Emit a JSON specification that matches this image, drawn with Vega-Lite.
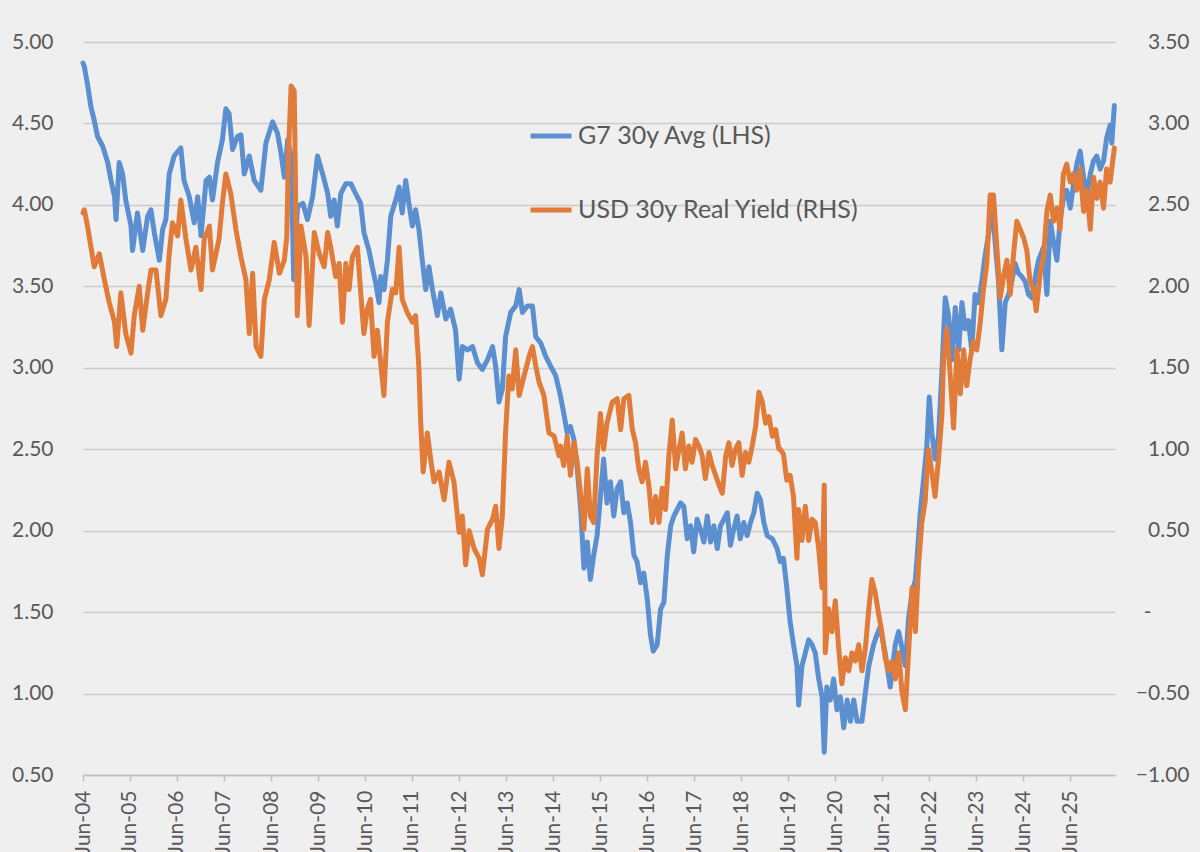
{
  "$schema": "https://vega.github.io/schema/vega-lite/v6.json",
  "width": 1032,
  "height": 733,
  "autosize": {"type": "none"},
  "padding": {"left": 83, "top": 42, "right": 85, "bottom": 77},
  "background": "#efefef",
  "config": {
    "view": {"stroke": null},
    "font": "Lato",
    "axis": {"labelFont": "Lato", "labelFontSize": 21, "labelColor": "#595959", "title": null}
  },
  "datasets": {
    "g7": [
      {"date": "2004-06-01", "value": 4.87}, {"date": "2004-06-11", "value": 4.85}, {"date": "2004-07-06", "value": 4.74},
      {"date": "2004-08-02", "value": 4.60}, {"date": "2004-08-27", "value": 4.52}, {"date": "2004-09-22", "value": 4.42},
      {"date": "2004-11-01", "value": 4.36}, {"date": "2004-12-10", "value": 4.26}, {"date": "2005-01-05", "value": 4.15},
      {"date": "2005-02-01", "value": 4.05}, {"date": "2005-02-13", "value": 3.91}, {"date": "2005-03-09", "value": 4.26},
      {"date": "2005-04-05", "value": 4.19}, {"date": "2005-04-29", "value": 4.03}, {"date": "2005-06-09", "value": 3.87},
      {"date": "2005-06-21", "value": 3.72}, {"date": "2005-07-29", "value": 3.95}, {"date": "2005-09-08", "value": 3.72},
      {"date": "2005-10-16", "value": 3.93}, {"date": "2005-11-11", "value": 3.97}, {"date": "2005-12-07", "value": 3.83},
      {"date": "2006-01-15", "value": 3.66}, {"date": "2006-02-10", "value": 3.85}, {"date": "2006-03-07", "value": 3.91},
      {"date": "2006-04-02", "value": 4.19}, {"date": "2006-05-10", "value": 4.30}, {"date": "2006-07-01", "value": 4.35},
      {"date": "2006-07-26", "value": 4.15}, {"date": "2006-09-05", "value": 4.05}, {"date": "2006-10-13", "value": 3.89},
      {"date": "2006-11-09", "value": 4.05}, {"date": "2006-12-05", "value": 3.81}, {"date": "2007-01-13", "value": 4.15},
      {"date": "2007-02-08", "value": 4.17}, {"date": "2007-03-04", "value": 4.03}, {"date": "2007-04-12", "value": 4.26},
      {"date": "2007-05-20", "value": 4.40}, {"date": "2007-06-16", "value": 4.59}, {"date": "2007-07-11", "value": 4.56},
      {"date": "2007-08-07", "value": 4.34}, {"date": "2007-09-15", "value": 4.42}, {"date": "2007-10-11", "value": 4.43},
      {"date": "2007-11-06", "value": 4.19}, {"date": "2007-12-15", "value": 4.30}, {"date": "2008-01-22", "value": 4.15},
      {"date": "2008-03-14", "value": 4.09}, {"date": "2008-04-22", "value": 4.38}, {"date": "2008-06-13", "value": 4.51},
      {"date": "2008-07-21", "value": 4.44}, {"date": "2008-08-17", "value": 4.32}, {"date": "2008-09-12", "value": 4.17},
      {"date": "2008-10-08", "value": 4.40}, {"date": "2008-11-04", "value": 4.30}, {"date": "2008-11-24", "value": 3.54},
      {"date": "2008-12-24", "value": 3.99}, {"date": "2009-02-03", "value": 4.01}, {"date": "2009-03-11", "value": 3.91},
      {"date": "2009-04-20", "value": 4.05}, {"date": "2009-05-28", "value": 4.30}, {"date": "2009-07-07", "value": 4.19},
      {"date": "2009-08-15", "value": 4.07}, {"date": "2009-09-08", "value": 3.93}, {"date": "2009-10-04", "value": 4.03},
      {"date": "2009-10-29", "value": 3.87}, {"date": "2009-11-25", "value": 4.07}, {"date": "2010-01-03", "value": 4.13},
      {"date": "2010-02-11", "value": 4.13}, {"date": "2010-03-20", "value": 4.07}, {"date": "2010-04-28", "value": 4.01},
      {"date": "2010-05-24", "value": 3.83}, {"date": "2010-07-02", "value": 3.72}, {"date": "2010-07-27", "value": 3.62},
      {"date": "2010-08-23", "value": 3.52}, {"date": "2010-09-18", "value": 3.40}, {"date": "2010-10-01", "value": 3.56},
      {"date": "2010-10-27", "value": 3.48}, {"date": "2010-11-22", "value": 3.66}, {"date": "2010-12-18", "value": 3.93},
      {"date": "2011-01-26", "value": 4.03}, {"date": "2011-02-21", "value": 4.11}, {"date": "2011-03-17", "value": 3.95},
      {"date": "2011-04-13", "value": 4.15}, {"date": "2011-05-08", "value": 4.01}, {"date": "2011-06-04", "value": 3.87},
      {"date": "2011-06-29", "value": 3.97}, {"date": "2011-07-25", "value": 3.85}, {"date": "2011-08-20", "value": 3.66},
      {"date": "2011-09-16", "value": 3.48}, {"date": "2011-10-11", "value": 3.62}, {"date": "2011-11-07", "value": 3.48},
      {"date": "2011-12-15", "value": 3.32}, {"date": "2012-01-11", "value": 3.46}, {"date": "2012-02-19", "value": 3.30},
      {"date": "2012-03-27", "value": 3.36}, {"date": "2012-05-05", "value": 3.23}, {"date": "2012-06-01", "value": 2.93},
      {"date": "2012-06-27", "value": 3.13}, {"date": "2012-08-05", "value": 3.11}, {"date": "2012-09-13", "value": 3.13},
      {"date": "2012-10-22", "value": 3.03}, {"date": "2012-11-29", "value": 2.99}, {"date": "2013-01-08", "value": 3.05},
      {"date": "2013-02-16", "value": 3.13}, {"date": "2013-03-12", "value": 3.01}, {"date": "2013-04-07", "value": 2.79},
      {"date": "2013-05-03", "value": 2.87}, {"date": "2013-05-28", "value": 3.19}, {"date": "2013-07-07", "value": 3.34},
      {"date": "2013-08-15", "value": 3.38}, {"date": "2013-09-11", "value": 3.48}, {"date": "2013-10-06", "value": 3.34},
      {"date": "2013-11-14", "value": 3.38}, {"date": "2013-12-23", "value": 3.38}, {"date": "2014-01-18", "value": 3.19},
      {"date": "2014-02-26", "value": 3.15}, {"date": "2014-04-05", "value": 3.07}, {"date": "2014-05-13", "value": 3.01},
      {"date": "2014-06-22", "value": 2.95}, {"date": "2014-07-28", "value": 2.83}, {"date": "2014-08-23", "value": 2.72},
      {"date": "2014-09-19", "value": 2.60}, {"date": "2014-10-14", "value": 2.64}, {"date": "2014-11-10", "value": 2.56},
      {"date": "2014-12-06", "value": 2.38}, {"date": "2015-01-02", "value": 2.13}, {"date": "2015-01-27", "value": 1.77},
      {"date": "2015-02-22", "value": 1.93}, {"date": "2015-03-18", "value": 1.70}, {"date": "2015-04-13", "value": 1.85},
      {"date": "2015-05-09", "value": 1.97}, {"date": "2015-06-04", "value": 2.21}, {"date": "2015-06-29", "value": 2.44},
      {"date": "2015-07-25", "value": 2.17}, {"date": "2015-08-21", "value": 2.30}, {"date": "2015-09-16", "value": 2.09},
      {"date": "2015-10-12", "value": 2.26}, {"date": "2015-11-08", "value": 2.30}, {"date": "2015-12-03", "value": 2.11},
      {"date": "2015-12-29", "value": 2.17}, {"date": "2016-01-24", "value": 2.05}, {"date": "2016-02-19", "value": 1.85},
      {"date": "2016-03-15", "value": 1.81}, {"date": "2016-04-11", "value": 1.68}, {"date": "2016-05-06", "value": 1.74},
      {"date": "2016-06-02", "value": 1.58}, {"date": "2016-06-27", "value": 1.36}, {"date": "2016-07-18", "value": 1.26},
      {"date": "2016-08-18", "value": 1.30}, {"date": "2016-09-14", "value": 1.52}, {"date": "2016-10-09", "value": 1.56},
      {"date": "2016-11-05", "value": 1.85}, {"date": "2016-12-01", "value": 2.03}, {"date": "2016-12-26", "value": 2.09},
      {"date": "2017-01-21", "value": 2.13}, {"date": "2017-02-16", "value": 2.17}, {"date": "2017-03-13", "value": 2.15},
      {"date": "2017-04-08", "value": 1.95}, {"date": "2017-05-04", "value": 2.03}, {"date": "2017-05-29", "value": 1.87},
      {"date": "2017-06-24", "value": 2.07}, {"date": "2017-07-20", "value": 2.01}, {"date": "2017-08-16", "value": 1.93},
      {"date": "2017-09-11", "value": 2.09}, {"date": "2017-10-07", "value": 1.93}, {"date": "2017-11-02", "value": 2.03},
      {"date": "2017-11-28", "value": 1.89}, {"date": "2017-12-23", "value": 2.03}, {"date": "2018-01-19", "value": 2.07},
      {"date": "2018-02-14", "value": 2.11}, {"date": "2018-03-10", "value": 1.91}, {"date": "2018-04-05", "value": 2.01},
      {"date": "2018-05-01", "value": 2.09}, {"date": "2018-05-26", "value": 1.95}, {"date": "2018-06-22", "value": 2.05},
      {"date": "2018-07-18", "value": 1.97}, {"date": "2018-08-13", "value": 2.05}, {"date": "2018-09-08", "value": 2.11},
      {"date": "2018-10-04", "value": 2.23}, {"date": "2018-10-29", "value": 2.19}, {"date": "2018-11-25", "value": 2.05},
      {"date": "2018-12-21", "value": 1.97}, {"date": "2019-01-30", "value": 1.95}, {"date": "2019-03-08", "value": 1.89},
      {"date": "2019-04-01", "value": 1.81}, {"date": "2019-04-26", "value": 1.83}, {"date": "2019-05-22", "value": 1.65},
      {"date": "2019-06-17", "value": 1.44}, {"date": "2019-07-13", "value": 1.30}, {"date": "2019-08-09", "value": 1.17},
      {"date": "2019-08-22", "value": 0.93}, {"date": "2019-09-17", "value": 1.17}, {"date": "2019-10-13", "value": 1.25},
      {"date": "2019-11-08", "value": 1.33}, {"date": "2019-12-04", "value": 1.30}, {"date": "2019-12-29", "value": 1.25},
      {"date": "2020-01-25", "value": 1.09}, {"date": "2020-02-20", "value": 0.98}, {"date": "2020-03-08", "value": 0.64},
      {"date": "2020-03-28", "value": 1.04}, {"date": "2020-04-24", "value": 0.96}, {"date": "2020-05-20", "value": 1.09},
      {"date": "2020-06-15", "value": 0.90}, {"date": "2020-07-11", "value": 0.98}, {"date": "2020-08-06", "value": 0.79},
      {"date": "2020-09-02", "value": 0.96}, {"date": "2020-09-27", "value": 0.83}, {"date": "2020-10-23", "value": 0.96},
      {"date": "2020-11-18", "value": 0.83}, {"date": "2020-12-26", "value": 0.83}, {"date": "2021-01-22", "value": 1.01},
      {"date": "2021-02-17", "value": 1.17}, {"date": "2021-03-26", "value": 1.30}, {"date": "2021-04-21", "value": 1.36},
      {"date": "2021-05-17", "value": 1.41}, {"date": "2021-06-24", "value": 1.25}, {"date": "2021-08-03", "value": 1.04},
      {"date": "2021-09-11", "value": 1.30}, {"date": "2021-10-07", "value": 1.38}, {"date": "2021-11-02", "value": 1.28},
      {"date": "2021-11-28", "value": 1.17}, {"date": "2021-12-23", "value": 1.46}, {"date": "2022-01-19", "value": 1.62},
      {"date": "2022-02-14", "value": 1.70}, {"date": "2022-02-27", "value": 1.83}, {"date": "2022-03-23", "value": 2.10},
      {"date": "2022-04-18", "value": 2.31}, {"date": "2022-05-14", "value": 2.52}, {"date": "2022-06-02", "value": 2.82},
      {"date": "2022-06-22", "value": 2.60}, {"date": "2022-07-17", "value": 2.44}, {"date": "2022-08-13", "value": 2.58},
      {"date": "2022-09-08", "value": 2.97}, {"date": "2022-10-04", "value": 3.43}, {"date": "2022-10-30", "value": 3.32},
      {"date": "2022-11-25", "value": 3.05}, {"date": "2022-12-21", "value": 3.37}, {"date": "2023-01-16", "value": 3.11},
      {"date": "2023-02-11", "value": 3.40}, {"date": "2023-03-07", "value": 3.24}, {"date": "2023-04-02", "value": 3.29},
      {"date": "2023-04-28", "value": 3.11}, {"date": "2023-05-24", "value": 3.45}, {"date": "2023-06-19", "value": 3.40},
      {"date": "2023-07-15", "value": 3.53}, {"date": "2023-08-10", "value": 3.69}, {"date": "2023-09-06", "value": 3.82},
      {"date": "2023-10-01", "value": 4.01}, {"date": "2023-10-27", "value": 3.77}, {"date": "2023-11-22", "value": 3.53},
      {"date": "2023-12-18", "value": 3.11}, {"date": "2024-01-13", "value": 3.40}, {"date": "2024-02-08", "value": 3.45},
      {"date": "2024-03-04", "value": 3.53}, {"date": "2024-03-30", "value": 3.64}, {"date": "2024-04-25", "value": 3.58},
      {"date": "2024-05-21", "value": 3.56}, {"date": "2024-06-16", "value": 3.53}, {"date": "2024-07-12", "value": 3.45},
      {"date": "2024-08-07", "value": 3.43}, {"date": "2024-09-03", "value": 3.56}, {"date": "2024-09-28", "value": 3.66},
      {"date": "2024-11-06", "value": 3.74}, {"date": "2024-12-02", "value": 3.45}, {"date": "2024-12-28", "value": 3.90},
      {"date": "2025-01-23", "value": 3.77}, {"date": "2025-02-18", "value": 3.66}, {"date": "2025-03-14", "value": 3.90},
      {"date": "2025-04-09", "value": 4.04}, {"date": "2025-05-05", "value": 4.09}, {"date": "2025-06-01", "value": 3.98},
      {"date": "2025-06-26", "value": 4.12}, {"date": "2025-07-22", "value": 4.25}, {"date": "2025-08-17", "value": 4.33},
      {"date": "2025-09-13", "value": 4.17}, {"date": "2025-10-08", "value": 4.06}, {"date": "2025-11-04", "value": 4.19},
      {"date": "2025-11-29", "value": 4.27}, {"date": "2025-12-25", "value": 4.30}, {"date": "2026-01-20", "value": 4.22},
      {"date": "2026-02-15", "value": 4.27}, {"date": "2026-03-11", "value": 4.41}, {"date": "2026-04-07", "value": 4.49},
      {"date": "2026-04-20", "value": 4.38}, {"date": "2026-05-10", "value": 4.61}
    ],
    "usd": [
      {"date": "2004-06-01", "value": 2.45}, {"date": "2004-06-11", "value": 2.47}, {"date": "2004-07-06", "value": 2.37},
      {"date": "2004-08-02", "value": 2.24}, {"date": "2004-08-27", "value": 2.12}, {"date": "2004-10-06", "value": 2.20},
      {"date": "2004-11-14", "value": 2.04}, {"date": "2004-12-22", "value": 1.90}, {"date": "2005-02-01", "value": 1.78},
      {"date": "2005-02-18", "value": 1.63}, {"date": "2005-03-22", "value": 1.96}, {"date": "2005-04-29", "value": 1.71},
      {"date": "2005-06-09", "value": 1.59}, {"date": "2005-07-04", "value": 1.82}, {"date": "2005-08-12", "value": 2.00},
      {"date": "2005-09-08", "value": 1.73}, {"date": "2005-10-16", "value": 1.96}, {"date": "2005-11-11", "value": 2.10},
      {"date": "2005-12-20", "value": 2.10}, {"date": "2006-01-27", "value": 1.82}, {"date": "2006-03-07", "value": 1.92},
      {"date": "2006-04-02", "value": 2.20}, {"date": "2006-04-27", "value": 2.39}, {"date": "2006-06-06", "value": 2.31},
      {"date": "2006-07-01", "value": 2.53}, {"date": "2006-08-10", "value": 2.29}, {"date": "2006-09-18", "value": 2.10},
      {"date": "2006-10-26", "value": 2.24}, {"date": "2006-12-05", "value": 1.98}, {"date": "2006-12-30", "value": 2.29},
      {"date": "2007-02-08", "value": 2.37}, {"date": "2007-03-04", "value": 2.10}, {"date": "2007-04-24", "value": 2.29},
      {"date": "2007-05-20", "value": 2.51}, {"date": "2007-06-16", "value": 2.69}, {"date": "2007-07-24", "value": 2.57},
      {"date": "2007-09-02", "value": 2.35}, {"date": "2007-10-11", "value": 2.18}, {"date": "2007-11-19", "value": 2.04},
      {"date": "2007-12-15", "value": 1.71}, {"date": "2008-01-10", "value": 2.08}, {"date": "2008-02-06", "value": 1.63},
      {"date": "2008-03-14", "value": 1.57}, {"date": "2008-04-10", "value": 1.92}, {"date": "2008-05-18", "value": 2.04},
      {"date": "2008-06-26", "value": 2.27}, {"date": "2008-08-05", "value": 2.08}, {"date": "2008-09-12", "value": 2.16},
      {"date": "2008-10-01", "value": 2.30}, {"date": "2008-10-16", "value": 2.85}, {"date": "2008-11-04", "value": 3.23},
      {"date": "2008-11-28", "value": 3.20}, {"date": "2008-12-10", "value": 2.50}, {"date": "2008-12-22", "value": 1.82},
      {"date": "2009-01-20", "value": 2.37}, {"date": "2009-02-28", "value": 2.18}, {"date": "2009-03-24", "value": 1.76},
      {"date": "2009-05-03", "value": 2.33}, {"date": "2009-06-11", "value": 2.20}, {"date": "2009-07-19", "value": 2.12},
      {"date": "2009-08-15", "value": 2.33}, {"date": "2009-09-08", "value": 2.24}, {"date": "2009-10-16", "value": 2.06},
      {"date": "2009-11-12", "value": 2.14}, {"date": "2009-12-08", "value": 1.78}, {"date": "2010-01-03", "value": 2.14},
      {"date": "2010-01-28", "value": 1.98}, {"date": "2010-02-23", "value": 2.18}, {"date": "2010-04-03", "value": 2.24},
      {"date": "2010-04-27", "value": 1.98}, {"date": "2010-05-23", "value": 1.71}, {"date": "2010-06-19", "value": 1.86},
      {"date": "2010-07-14", "value": 1.92}, {"date": "2010-08-10", "value": 1.57}, {"date": "2010-09-05", "value": 1.73},
      {"date": "2010-10-01", "value": 1.53}, {"date": "2010-10-26", "value": 1.33}, {"date": "2010-11-22", "value": 1.78},
      {"date": "2010-12-30", "value": 1.98}, {"date": "2011-01-26", "value": 1.96}, {"date": "2011-02-21", "value": 2.24},
      {"date": "2011-03-17", "value": 1.92}, {"date": "2011-04-25", "value": 1.84}, {"date": "2011-06-04", "value": 1.78},
      {"date": "2011-06-29", "value": 1.82}, {"date": "2011-07-24", "value": 1.51}, {"date": "2011-08-08", "value": 1.16},
      {"date": "2011-08-27", "value": 0.86}, {"date": "2011-09-28", "value": 1.10}, {"date": "2011-10-24", "value": 0.94},
      {"date": "2011-11-19", "value": 0.80}, {"date": "2011-12-28", "value": 0.86}, {"date": "2012-02-06", "value": 0.69},
      {"date": "2012-03-14", "value": 0.92}, {"date": "2012-04-22", "value": 0.80}, {"date": "2012-06-01", "value": 0.49},
      {"date": "2012-06-26", "value": 0.59}, {"date": "2012-07-22", "value": 0.29}, {"date": "2012-08-18", "value": 0.50},
      {"date": "2012-09-26", "value": 0.39}, {"date": "2012-11-04", "value": 0.33}, {"date": "2012-11-29", "value": 0.23},
      {"date": "2013-01-08", "value": 0.51}, {"date": "2013-02-16", "value": 0.57}, {"date": "2013-03-12", "value": 0.65},
      {"date": "2013-04-07", "value": 0.39}, {"date": "2013-05-03", "value": 0.59}, {"date": "2013-05-28", "value": 1.10},
      {"date": "2013-06-23", "value": 1.45}, {"date": "2013-07-19", "value": 1.37}, {"date": "2013-08-15", "value": 1.61},
      {"date": "2013-09-11", "value": 1.33}, {"date": "2013-10-19", "value": 1.45}, {"date": "2013-11-27", "value": 1.57},
      {"date": "2013-12-23", "value": 1.63}, {"date": "2014-01-18", "value": 1.51}, {"date": "2014-02-13", "value": 1.41},
      {"date": "2014-03-22", "value": 1.33}, {"date": "2014-04-30", "value": 1.10}, {"date": "2014-06-09", "value": 1.08},
      {"date": "2014-07-17", "value": 0.96}, {"date": "2014-07-28", "value": 1.02}, {"date": "2014-08-23", "value": 0.90},
      {"date": "2014-09-19", "value": 1.08}, {"date": "2014-10-14", "value": 0.84}, {"date": "2014-11-10", "value": 1.04},
      {"date": "2014-12-06", "value": 0.92}, {"date": "2015-01-02", "value": 0.71}, {"date": "2015-01-27", "value": 0.51},
      {"date": "2015-02-22", "value": 0.88}, {"date": "2015-03-18", "value": 0.59}, {"date": "2015-04-13", "value": 0.55},
      {"date": "2015-05-09", "value": 0.96}, {"date": "2015-06-04", "value": 1.22}, {"date": "2015-06-29", "value": 1.00},
      {"date": "2015-07-25", "value": 1.16}, {"date": "2015-09-04", "value": 1.29}, {"date": "2015-10-12", "value": 1.31},
      {"date": "2015-11-08", "value": 1.12}, {"date": "2015-12-03", "value": 1.31}, {"date": "2016-01-11", "value": 1.33},
      {"date": "2016-02-07", "value": 1.12}, {"date": "2016-03-03", "value": 1.04}, {"date": "2016-03-28", "value": 0.88},
      {"date": "2016-04-23", "value": 0.80}, {"date": "2016-05-19", "value": 0.92}, {"date": "2016-06-14", "value": 0.78},
      {"date": "2016-07-10", "value": 0.55}, {"date": "2016-08-06", "value": 0.71}, {"date": "2016-09-01", "value": 0.55},
      {"date": "2016-09-26", "value": 0.76}, {"date": "2016-10-22", "value": 0.63}, {"date": "2016-11-17", "value": 0.96},
      {"date": "2016-12-13", "value": 1.18}, {"date": "2017-01-09", "value": 0.88}, {"date": "2017-02-04", "value": 1.00},
      {"date": "2017-02-28", "value": 1.10}, {"date": "2017-03-25", "value": 0.88}, {"date": "2017-04-21", "value": 1.02},
      {"date": "2017-05-16", "value": 0.92}, {"date": "2017-06-12", "value": 1.06}, {"date": "2017-07-08", "value": 1.02},
      {"date": "2017-08-03", "value": 0.96}, {"date": "2017-08-28", "value": 0.82}, {"date": "2017-09-24", "value": 0.98},
      {"date": "2017-10-19", "value": 0.90}, {"date": "2017-11-15", "value": 0.84}, {"date": "2017-12-11", "value": 0.78},
      {"date": "2018-01-06", "value": 0.73}, {"date": "2018-02-02", "value": 0.96}, {"date": "2018-02-26", "value": 1.04},
      {"date": "2018-03-23", "value": 0.90}, {"date": "2018-04-18", "value": 1.00}, {"date": "2018-05-14", "value": 1.04},
      {"date": "2018-06-09", "value": 0.84}, {"date": "2018-07-05", "value": 0.98}, {"date": "2018-07-31", "value": 0.92},
      {"date": "2018-08-26", "value": 1.02}, {"date": "2018-09-22", "value": 1.14}, {"date": "2018-10-17", "value": 1.35},
      {"date": "2018-11-13", "value": 1.29}, {"date": "2018-12-08", "value": 1.16}, {"date": "2019-01-04", "value": 1.20},
      {"date": "2019-01-30", "value": 1.08}, {"date": "2019-02-25", "value": 1.12}, {"date": "2019-03-21", "value": 1.00},
      {"date": "2019-04-01", "value": 1.00}, {"date": "2019-04-26", "value": 0.97}, {"date": "2019-05-22", "value": 0.81},
      {"date": "2019-06-17", "value": 0.84}, {"date": "2019-07-13", "value": 0.71}, {"date": "2019-08-09", "value": 0.33},
      {"date": "2019-08-22", "value": 0.63}, {"date": "2019-09-17", "value": 0.44}, {"date": "2019-10-13", "value": 0.65},
      {"date": "2019-11-08", "value": 0.44}, {"date": "2019-12-04", "value": 0.57}, {"date": "2019-12-29", "value": 0.55},
      {"date": "2020-01-25", "value": 0.39}, {"date": "2020-02-20", "value": 0.15}, {"date": "2020-03-08", "value": 0.78},
      {"date": "2020-03-16", "value": -0.25}, {"date": "2020-04-11", "value": 0.02}, {"date": "2020-05-07", "value": -0.12},
      {"date": "2020-06-02", "value": 0.07}, {"date": "2020-06-28", "value": -0.22}, {"date": "2020-07-23", "value": -0.44},
      {"date": "2020-08-19", "value": -0.28}, {"date": "2020-09-14", "value": -0.36}, {"date": "2020-10-10", "value": -0.25},
      {"date": "2020-11-05", "value": -0.30}, {"date": "2020-12-01", "value": -0.20}, {"date": "2020-12-26", "value": -0.36},
      {"date": "2021-01-22", "value": -0.22}, {"date": "2021-02-17", "value": 0.02}, {"date": "2021-03-13", "value": 0.20},
      {"date": "2021-04-08", "value": 0.12}, {"date": "2021-05-04", "value": -0.01}, {"date": "2021-05-29", "value": -0.12},
      {"date": "2021-06-24", "value": -0.28}, {"date": "2021-07-20", "value": -0.36}, {"date": "2021-08-16", "value": -0.30},
      {"date": "2021-09-11", "value": -0.41}, {"date": "2021-10-07", "value": -0.25}, {"date": "2021-11-02", "value": -0.49},
      {"date": "2021-11-28", "value": -0.60}, {"date": "2021-12-23", "value": -0.25}, {"date": "2022-01-19", "value": 0.15},
      {"date": "2022-02-14", "value": -0.12}, {"date": "2022-03-10", "value": 0.28}, {"date": "2022-04-05", "value": 0.55},
      {"date": "2022-05-01", "value": 0.68}, {"date": "2022-05-26", "value": 1.00}, {"date": "2022-06-22", "value": 0.86},
      {"date": "2022-07-17", "value": 0.71}, {"date": "2022-08-13", "value": 0.94}, {"date": "2022-09-08", "value": 1.21},
      {"date": "2022-09-21", "value": 1.55}, {"date": "2022-10-17", "value": 1.74}, {"date": "2022-11-12", "value": 1.45},
      {"date": "2022-12-08", "value": 1.13}, {"date": "2023-01-03", "value": 1.61}, {"date": "2023-01-29", "value": 1.34},
      {"date": "2023-02-24", "value": 1.61}, {"date": "2023-03-20", "value": 1.39}, {"date": "2023-04-15", "value": 1.55},
      {"date": "2023-05-11", "value": 1.66}, {"date": "2023-06-06", "value": 1.61}, {"date": "2023-07-02", "value": 1.77},
      {"date": "2023-07-28", "value": 1.98}, {"date": "2023-08-23", "value": 2.14}, {"date": "2023-09-18", "value": 2.56},
      {"date": "2023-10-14", "value": 2.56}, {"date": "2023-11-09", "value": 2.24}, {"date": "2023-12-05", "value": 1.93},
      {"date": "2023-12-31", "value": 2.06}, {"date": "2024-01-26", "value": 2.16}, {"date": "2024-02-21", "value": 1.95},
      {"date": "2024-03-17", "value": 2.19}, {"date": "2024-04-12", "value": 2.40}, {"date": "2024-05-08", "value": 2.35},
      {"date": "2024-06-03", "value": 2.30}, {"date": "2024-06-29", "value": 2.22}, {"date": "2024-07-24", "value": 2.03},
      {"date": "2024-08-20", "value": 1.98}, {"date": "2024-09-10", "value": 1.85}, {"date": "2024-10-11", "value": 2.08},
      {"date": "2024-11-06", "value": 2.19}, {"date": "2024-12-02", "value": 2.46}, {"date": "2024-12-28", "value": 2.56},
      {"date": "2025-01-23", "value": 2.40}, {"date": "2025-02-18", "value": 2.48}, {"date": "2025-03-14", "value": 2.35},
      {"date": "2025-04-09", "value": 2.69}, {"date": "2025-05-05", "value": 2.75}, {"date": "2025-06-01", "value": 2.64},
      {"date": "2025-06-26", "value": 2.69}, {"date": "2025-07-22", "value": 2.59}, {"date": "2025-08-17", "value": 2.72},
      {"date": "2025-09-13", "value": 2.46}, {"date": "2025-10-08", "value": 2.59}, {"date": "2025-11-04", "value": 2.35},
      {"date": "2025-11-29", "value": 2.67}, {"date": "2025-12-25", "value": 2.54}, {"date": "2026-01-20", "value": 2.64},
      {"date": "2026-02-15", "value": 2.48}, {"date": "2026-03-11", "value": 2.72}, {"date": "2026-04-07", "value": 2.64},
      {"date": "2026-05-10", "value": 2.85}
    ]
  },
  "layer": [
    {
      "data": {"name": "g7"},
      "mark": {"type": "line", "strokeWidth": 5, "strokeJoin": "round", "strokeCap": "round"},
      "encoding": {
        "x": {
          "field": "date",
          "type": "temporal",
          "scale": {
            "type": "utc",
            "domain": [
              {"year": 2004, "month": 6, "date": 1, "utc": true},
              {"year": 2026, "month": 5, "date": 15, "utc": true}
            ],
            "nice": false
          },
          "axis": {
            "values": [
              {"year": 2004, "month": 6, "date": 1, "utc": true}, {"year": 2005, "month": 6, "date": 1, "utc": true},
              {"year": 2006, "month": 6, "date": 1, "utc": true}, {"year": 2007, "month": 6, "date": 1, "utc": true},
              {"year": 2008, "month": 6, "date": 1, "utc": true}, {"year": 2009, "month": 6, "date": 1, "utc": true},
              {"year": 2010, "month": 6, "date": 1, "utc": true}, {"year": 2011, "month": 6, "date": 1, "utc": true},
              {"year": 2012, "month": 6, "date": 1, "utc": true}, {"year": 2013, "month": 6, "date": 1, "utc": true},
              {"year": 2014, "month": 6, "date": 1, "utc": true}, {"year": 2015, "month": 6, "date": 1, "utc": true},
              {"year": 2016, "month": 6, "date": 1, "utc": true}, {"year": 2017, "month": 6, "date": 1, "utc": true},
              {"year": 2018, "month": 6, "date": 1, "utc": true}, {"year": 2019, "month": 6, "date": 1, "utc": true},
              {"year": 2020, "month": 6, "date": 1, "utc": true}, {"year": 2021, "month": 6, "date": 1, "utc": true},
              {"year": 2022, "month": 6, "date": 1, "utc": true}, {"year": 2023, "month": 6, "date": 1, "utc": true},
              {"year": 2024, "month": 6, "date": 1, "utc": true}, {"year": 2025, "month": 6, "date": 1, "utc": true}
            ],
            "format": "%b-%y",
            "labelAngle": -90,
            "labelAlign": "right",
            "labelBaseline": "middle",
            "labelOverlap": false,
            "labelPadding": 9,
            "tickSize": 6,
            "tickColor": "#bfbfbf",
            "tickWidth": 1.5,
            "domainColor": "#bfbfbf",
            "domainWidth": 1.5,
            "grid": false
          }
        },
        "y": {
          "field": "value",
          "type": "quantitative",
          "scale": {"domain": [0.5, 5], "nice": false, "zero": false},
          "axis": {
            "orient": "left",
            "values": [0.5, 1, 1.5, 2, 2.5, 3, 3.5, 4, 4.5, 5],
            "format": ".2f",
            "domain": false,
            "ticks": false,
            "tickSize": 0,
            "labelPadding": 30,
            "grid": true,
            "gridColor": "#cccccc",
            "gridWidth": 1.5
          }
        },
        "color": {
          "datum": "G7 30y Avg (LHS)",
          "type": "nominal",
          "scale": {
            "domain": ["G7 30y Avg (LHS)", "USD 30y Real Yield (RHS)"],
            "range": ["#5b8fd0", "#e07b39"]
          },
          "legend": {
            "orient": "none",
            "legendX": 445,
            "legendY": 71,
            "title": null,
            "padding": 0,
            "symbolType": "stroke",
            "symbolStrokeWidth": 5,
            "symbolSize": 1681,
            "labelFont": "Lato",
            "labelFontSize": 25,
            "labelColor": "#595959",
            "labelLimit": 0,
            "labelOffset": 4,
            "rowPadding": 38
          }
        }
      }
    },
    {
      "data": {"name": "usd"},
      "mark": {"type": "line", "strokeWidth": 5, "strokeJoin": "round", "strokeCap": "round"},
      "encoding": {
        "x": {"field": "date", "type": "temporal"},
        "y": {
          "field": "value",
          "type": "quantitative",
          "scale": {"domain": [-1, 3.5], "nice": false, "zero": false},
          "axis": {
            "orient": "right",
            "values": [-1, -0.5, 0, 0.5, 1, 1.5, 2, 2.5, 3, 3.5],
            "labelExpr": "datum.value == 0 ? '-' : format(datum.value, '.2f')",
            "labelAlign": "right",
            "domain": false,
            "ticks": false,
            "tickSize": 0,
            "labelPadding": {"condition": {"test": "datum.value == 0", "value": 36}, "value": 74},
            "grid": false
          }
        },
        "color": {"datum": "USD 30y Real Yield (RHS)", "type": "nominal"}
      }
    }
  ],
  "resolve": {"scale": {"y": "independent"}}
}
